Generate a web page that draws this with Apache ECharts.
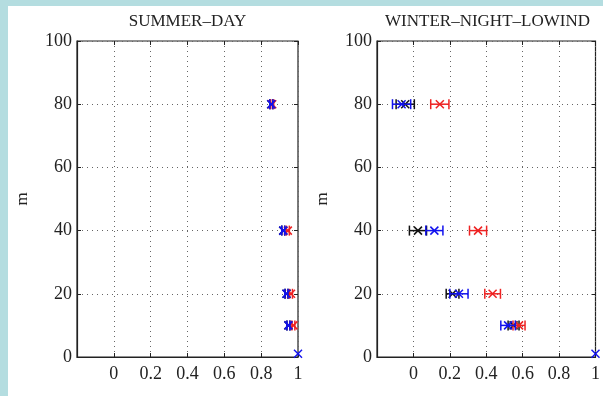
<!DOCTYPE html>
<html>
<head>
<meta charset="utf-8">
<script src="https://cdn.jsdelivr.net/npm/echarts@6/dist/echarts.min.js"></script>
<style>
  html, body { margin: 0; padding: 0; background: #b4dde0; }
  #chart { width: 603px; height: 396px; }
</style>
</head>
<body>
<div id="chart"></div>
<script>
// heights (m) of the profile points
const heights = [80, 40, 20, 10];

// SUMMER-DAY: x value and half-width of the error bar
const summerBlack    = [0.855, 0.92, 0.938, 0.948];
const summerBlackErr = [0.008, 0.008, 0.008, 0.008];
const summerRed      = [0.86, 0.945, 0.962, 0.975];
const summerRedErr   = [0.008, 0.008, 0.008, 0.008];
const summerBlue     = [0.855, 0.92, 0.937, 0.948];
const summerBlueErr  = [0.008, 0.008, 0.008, 0.008];

// WINTER-NIGHT-LOWIND
const winterBlack    = [-0.045, 0.025, 0.215, 0.55];
const winterBlackErr = [0.05, 0.047, 0.035, 0.03];
const winterRed      = [0.145, 0.355, 0.435, 0.58];
const winterRedErr   = [0.05, 0.047, 0.043, 0.033];
const winterBlue     = [-0.065, 0.115, 0.25, 0.52];
const winterBlueErr  = [0.05, 0.047, 0.05, 0.04];

// surface point (no error bar)
const surfaceX = [1];
const surfaceY = [1];

const xLabels = ['0', '0.2', '0.4', '0.6', '0.8', '1'];

const FONT = 'Liberation Serif';
const COLORS = { black: '#111111', red: '#ee2222', blue: '#1111ee' };

function rows(xs, errs, ys) {
  return xs.map((x, i) => [x, ys[i], errs ? errs[i] : 0]);
}

function errRender(params, api) {
  const x = api.value(0), y = api.value(1), e = api.value(2);
  const c = api.coord([x, y]);
  const color = api.visual('color');
  const st = { stroke: color, lineWidth: 1.5, fill: null };
  const kids = [];
  if (e > 0) {
    const l = api.coord([x - e, y])[0], r = api.coord([x + e, y])[0];
    kids.push({ type: 'line', shape: { x1: l, y1: c[1], x2: r, y2: c[1] }, style: st });
    kids.push({ type: 'line', shape: { x1: l, y1: c[1] - 5, x2: l, y2: c[1] + 5 }, style: st });
    kids.push({ type: 'line', shape: { x1: r, y1: c[1] - 5, x2: r, y2: c[1] + 5 }, style: st });
  }
  const s = 4;
  kids.push({ type: 'line', shape: { x1: c[0] - s, y1: c[1] - s, x2: c[0] + s, y2: c[1] + s }, style: st });
  kids.push({ type: 'line', shape: { x1: c[0] - s, y1: c[1] + s, x2: c[0] + s, y2: c[1] - s }, style: st });
  return { type: 'group', children: kids };
}

function errSeries(idx, color, data) {
  return {
    type: 'custom', xAxisIndex: idx, yAxisIndex: idx, clip: false,
    itemStyle: { color }, renderItem: errRender, data, z: 5,
    encode: { x: 0, y: 1 }
  };
}

const panels = [
  { title: 'SUMMER–DAY', left: 77, sets: [[summerBlack, summerBlackErr, 'black'], [summerRed, summerRedErr, 'red'], [summerBlue, summerBlueErr, 'blue']] },
  { title: 'WINTER–NIGHT–LOWIND', left: 377, sets: [[winterBlack, winterBlackErr, 'black'], [winterRed, winterRedErr, 'red'], [winterBlue, winterBlueErr, 'blue']] }
];

const grid = [], xAxis = [], yAxis = [], series = [], graphic = [];
graphic.push({ type: 'rect', left: 8, top: 6, shape: { width: 595, height: 390 }, style: { fill: '#ffffff' }, z: -10 });

const W = 221, H = 316, TOP = 41;
const tick = { show: true, inside: true, length: 4, lineStyle: { color: '#222' } };
const dots = { show: true, lineStyle: { color: '#666', type: [1, 4], width: 1 } };
panels.forEach((p, i) => {
  grid.push({ left: p.left, top: TOP, width: W, height: H, show: true, borderColor: '#222', borderWidth: 1.2, backgroundColor: '#fff' });
  xAxis.push({
    type: 'value', gridIndex: i, min: -0.2, max: 1, interval: 0.2, position: 'bottom',
    axisLine: { show: true, onZero: false, lineStyle: { color: '#222', width: 1.2 } },
    axisTick: tick,
    axisLabel: {
      color: '#222', fontFamily: FONT, fontSize: 18, margin: 8,
      formatter: v => { const k = Math.round(v * 5); return k < 0 ? '' : xLabels[k]; }
    },
    splitLine: dots
  });
  yAxis.push({
    type: 'value', gridIndex: i, min: 0, max: 100, interval: 20, position: 'left',
    name: 'm', nameLocation: 'middle', nameGap: 46, nameRotate: 90,
    nameTextStyle: { color: '#222', fontFamily: FONT, fontSize: 17 },
    axisLine: { show: true, onZero: false, lineStyle: { color: '#222', width: 1.2 } },
    axisTick: tick,
    axisLabel: { color: '#222', fontFamily: FONT, fontSize: 18, margin: 5 },
    splitLine: dots
  });
  graphic.push({
    type: 'text', x: p.left + W / 2, y: 22,
    style: { text: p.title, font: '17px "' + FONT + '"', fill: '#222', align: 'center', verticalAlign: 'middle' }
  });
  p.sets.forEach(s => series.push(errSeries(i, COLORS[s[2]], rows(s[0], s[1], heights))));
  series.push(errSeries(i, COLORS.blue, rows(surfaceX, null, surfaceY)));
});

// extra top / right axes for inside ticks on the box
panels.forEach((p, i) => {
  xAxis.push({
    type: 'value', gridIndex: i, min: -0.2, max: 1, interval: 0.2, position: 'top',
    axisLine: { show: false, onZero: false }, axisLabel: { show: false }, splitLine: { show: false },
    axisTick: tick
  });
  yAxis.push({
    type: 'value', gridIndex: i, min: 0, max: 100, interval: 20, position: 'right',
    axisLine: { show: false, onZero: false }, axisLabel: { show: false }, splitLine: { show: false },
    axisTick: tick
  });
});

const chart = echarts.init(document.getElementById('chart'), null, { renderer: 'canvas' });
chart.setOption({
  backgroundColor: '#b4dde0',
  animation: false,
  graphic, grid, xAxis, yAxis, series
});
</script>
</body>
</html>
